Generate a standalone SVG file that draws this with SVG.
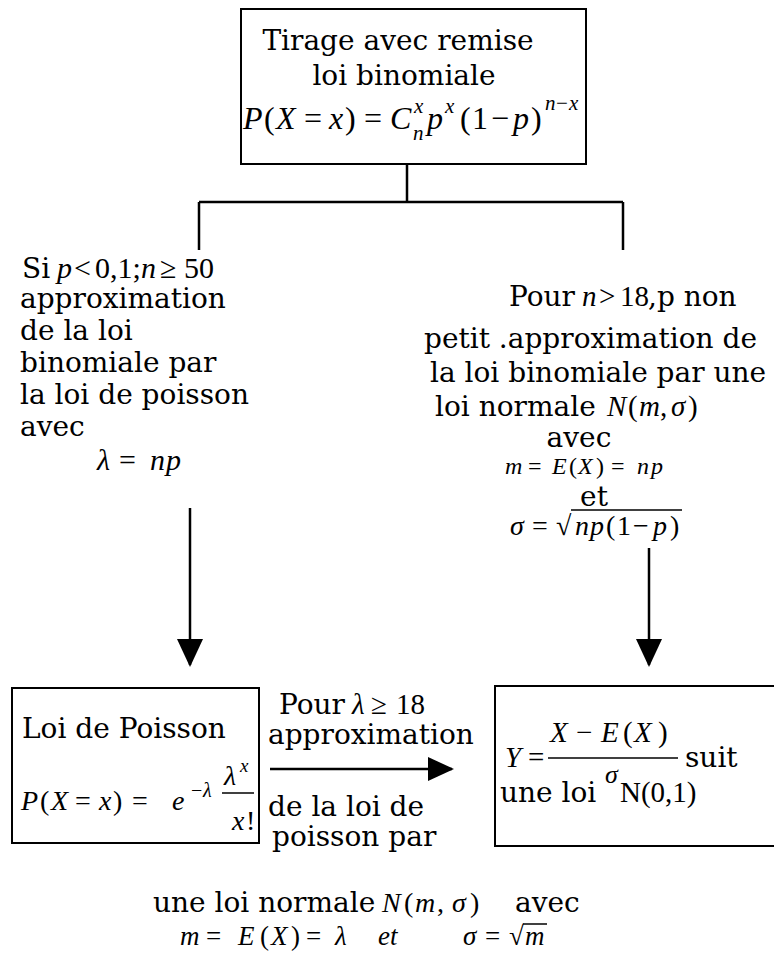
<svg xmlns="http://www.w3.org/2000/svg" width="774" height="955" viewBox="0 0 774 955">
<defs>
<style>
.t{font-family:"DejaVu Serif","Liberation Serif",serif;font-size:28px;fill:#000}
.i{font-family:"Liberation Serif","Times New Roman",serif;font-style:italic;fill:#000}
.u{font-family:"Liberation Serif","Times New Roman",serif;font-style:normal}
.box{fill:none;stroke:#000;stroke-width:2}
.ln{fill:none;stroke:#000;stroke-width:2.5}
.bar{stroke:#000;stroke-width:1.5}
</style>
<marker id="ah" viewBox="0 0 28 26" refX="26" refY="13" markerWidth="28" markerHeight="26" markerUnits="userSpaceOnUse" orient="auto">
<path d="M0,0 L28,13 L0,26 Z" fill="#000"/>
</marker>
<marker id="ah2" viewBox="0 0 26 24" refX="24" refY="12" markerWidth="26" markerHeight="24" markerUnits="userSpaceOnUse" orient="auto">
<path d="M0,0 L26,12 L0,24 Z" fill="#000"/>
</marker>
</defs>
<rect width="774" height="955" fill="#fff"/>

<g id="n-binomiale">
<rect class="box" x="241" y="9" width="345" height="155"/>
<text class="t" x="398" y="50" text-anchor="middle">Tirage avec remise</text>
<text class="t" x="404" y="85" text-anchor="middle">loi binomiale</text>
<text class="i" font-size="32" y="129"><tspan x="243">P</tspan><tspan class="u" x="264">(</tspan><tspan x="276">X</tspan><tspan class="u" x="304">=</tspan><tspan x="329">x</tspan><tspan class="u" x="345">)</tspan><tspan class="u" x="364">=</tspan><tspan x="390">C</tspan><tspan x="427">p</tspan><tspan class="u" x="460">(</tspan><tspan class="u" x="472">1</tspan><tspan class="u" x="491">−</tspan><tspan x="513">p</tspan><tspan class="u" x="531">)</tspan></text>
<text class="i" font-size="21"><tspan x="414" y="113">x</tspan><tspan x="413" y="140">n</tspan><tspan x="445" y="113">x</tspan><tspan x="545" y="110">n</tspan><tspan class="u" x="556" y="110">−</tspan><tspan x="569" y="110">x</tspan></text>
</g>

<g id="connectors">
<path class="ln" d="M407,164 V202 M199,202 H623 M199,202 V250 M623,202 V250"/>
<line class="ln" x1="190" y1="508" x2="190" y2="665" marker-end="url(#ah)"/>
<line class="ln" x1="649" y1="548" x2="649" y2="665" marker-end="url(#ah)"/>
<line class="ln" x1="270" y1="769" x2="452" y2="769" marker-end="url(#ah2)"/>
</g>

<g id="n-poisson-approx">
<text class="t" x="22" y="278">Si</text>
<text class="i" font-size="30" y="278"><tspan x="57">p</tspan><tspan class="u" x="74">&lt;</tspan><tspan class="u" x="95">0,1;</tspan><tspan x="141">n</tspan><tspan class="u" x="160">≥</tspan><tspan class="u" x="184">50</tspan></text>
<text class="t" x="20" y="308">approximation</text>
<text class="t" x="20" y="340">de la loi</text>
<text class="t" x="20" y="372">binomiale par</text>
<text class="t" x="20" y="404">la loi de poisson</text>
<text class="t" x="20" y="436">avec</text>
<text class="i" font-size="30" y="470"><tspan x="97">λ</tspan><tspan class="u" x="119">=</tspan><tspan x="150">n</tspan><tspan x="166">p</tspan></text>
</g>

<g id="n-normal-approx">
<text class="t" x="509" y="306">Pour</text>
<text class="i" font-size="29" y="306"><tspan x="582">n</tspan><tspan class="u" x="599">&gt;</tspan><tspan class="u" x="620">18</tspan></text>
<text class="t" x="648" y="306">,p non</text>
<text class="t" x="424" y="348">petit .approximation de</text>
<text class="t" x="430" y="382">la loi binomiale par une</text>
<text class="t" x="435" y="416">loi normale</text>
<text class="i" font-size="29" y="416"><tspan x="607">N</tspan><tspan class="u" x="628">(</tspan><tspan x="639">m</tspan><tspan class="u" x="660">,</tspan><tspan x="671">σ</tspan><tspan class="u" x="688">)</tspan></text>
<text class="t" x="579" y="447" text-anchor="middle" font-size="24">avec</text>
<text class="i" font-size="24" y="474"><tspan x="505">m</tspan><tspan class="u" x="528">=</tspan><tspan x="552">E</tspan><tspan class="u" x="569">(</tspan><tspan x="578">X</tspan><tspan class="u" x="596">)</tspan><tspan class="u" x="611">=</tspan><tspan x="637">n</tspan><tspan x="651">p</tspan></text>
<text class="t" x="594" y="506" text-anchor="middle" font-size="26">et</text>
<text class="i" font-size="28" y="535"><tspan x="510">σ</tspan><tspan class="u" x="532">=</tspan><tspan class="u" x="556">√</tspan><tspan x="575">n</tspan><tspan x="590">p</tspan><tspan class="u" x="606">(</tspan><tspan class="u" x="617">1</tspan><tspan class="u" x="633">−</tspan><tspan x="653">p</tspan><tspan class="u" x="670">)</tspan></text>
<line class="bar" x1="571" y1="510" x2="682" y2="510"/>
</g>

<g id="n-poisson">
<rect class="box" x="12" y="688" width="247" height="155"/>
<text class="t" x="22" y="738">Loi de Poisson</text>
<text class="i" font-size="28" y="810"><tspan x="21">P</tspan><tspan class="u" x="40">(</tspan><tspan x="51">X</tspan><tspan class="u" x="75">=</tspan><tspan x="99">x</tspan><tspan class="u" x="113">)</tspan><tspan class="u" x="132">=</tspan><tspan x="172">e</tspan></text>
<text class="i" font-size="20" y="797"><tspan class="u" x="191">−</tspan><tspan x="203">λ</tspan></text>
<text class="i" font-size="28" x="224" y="785">λ</text>
<text class="i" font-size="19" x="240" y="772">x</text>
<line class="bar" x1="222" y1="793" x2="254" y2="793"/>
<text class="i" font-size="28" y="830"><tspan x="232">x</tspan><tspan class="u" x="246">!</tspan></text>
</g>

<g id="n-poisson-to-normal">
<text class="t" x="279" y="714">Pour</text>
<text class="i" font-size="29" y="714"><tspan x="352">λ</tspan><tspan class="u" x="371">≥</tspan><tspan class="u" x="396">18</tspan></text>
<text class="t" x="268" y="744">approximation</text>
<text class="t" x="268" y="816">de la loi de</text>
<text class="t" x="272" y="846">poisson par</text>
<text class="t" x="153" y="912">une loi normale</text>
<text class="i" font-size="28" y="912"><tspan x="382">N</tspan><tspan class="u" x="404">(</tspan><tspan x="415">m</tspan><tspan class="u" x="437">,</tspan><tspan x="452">σ</tspan><tspan class="u" x="470">)</tspan></text>
<text class="t" x="515" y="912">avec</text>
<text class="i" font-size="27" y="945"><tspan x="180">m</tspan><tspan class="u" x="206">=</tspan><tspan x="238">E</tspan><tspan class="u" x="260">(</tspan><tspan x="271">X</tspan><tspan class="u" x="291">)</tspan><tspan class="u" x="306">=</tspan><tspan x="335">λ</tspan><tspan x="378">et</tspan><tspan x="463">σ</tspan><tspan class="u" x="485">=</tspan><tspan class="u" x="509">√</tspan><tspan x="525">m</tspan></text>
<line class="bar" x1="523" y1="924" x2="547" y2="924"/>
</g>

<g id="n-normal">
<rect class="box" x="495" y="686" width="290" height="160"/>
<text class="i" font-size="29" y="767"><tspan x="505">Y</tspan><tspan class="u" x="528">=</tspan></text>
<text class="i" font-size="29" y="742"><tspan x="550">X</tspan><tspan class="u" x="576">−</tspan><tspan x="601">E</tspan><tspan class="u" x="623">(</tspan><tspan x="634">X</tspan><tspan class="u" x="658">)</tspan></text>
<line class="bar" x1="548" y1="758" x2="678" y2="758"/>
<text class="i" font-size="26" x="605" y="783">σ</text>
<text class="t" x="685" y="767">suit</text>
<text class="t" x="500" y="802">une loi</text>
<text class="u" font-size="29" x="620" y="802">N(0,1)</text>
</g>
</svg>
